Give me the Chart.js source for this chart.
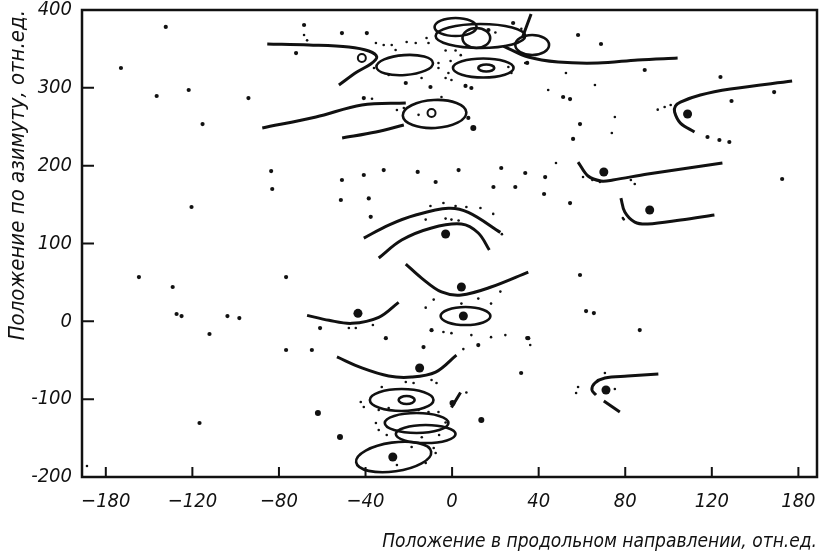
<!DOCTYPE html>
<html>
<head>
<meta charset="utf-8">
<script src="https://cdn.jsdelivr.net/npm/chart.js@4"></script>
<style>
  html, body { margin: 0; background: #fff; }
  #wrap { width: 823px; height: 557px; }
</style>
</head>
<body>
<div id="wrap"><canvas id="chart"></canvas></div>
<script>
// tick positions and the labels printed under them (as in the original figure)
const xTickValues = [-160, -120, -80, -40, 0, 40, 80, 120, 160];
const xTickLabels = ['−180', '−120', '−80', '−40', '0', '40', '80', '120', '180'];
const yTickValues = [-200, -100, 0, 100, 200, 300, 400];

// trajectory curves [x, y]
const curveA = [[-85.4, 356.3], [-66.1, 355], [-47.7, 352.5], [-38.5, 347.3], [-34.8, 339.6], [-37.6, 330.6], [-44.0, 320.3], [-52.3, 303.6]];
const curveB = [[23.7, 353.7], [35.2, 339.6], [49.0, 333.2], [67.4, 331.9], [85.8, 335.8], [104.2, 338.3]];
const slash = [[36.5, 394.9], [32.4, 364]];
const curveC1 = [[-87.7, 248.4], [-62.9, 262.5], [-41.7, 277.9], [-21.4, 280.5]];
const curveC2 = [[-50.8, 235.5], [-35.2, 243.2], [-22.3, 252.2]];
const curveD = [[112.0, 243.2], [105.5, 254.7], [102.8, 268.9], [103.2, 276.6], [105.5, 281.7], [114.7, 290.7], [128.6, 298.4], [157.1, 308.8]];
const curveE = [[58.2, 204.7], [62.8, 186.7], [68.8, 180.3], [74.3, 181.6], [90.4, 189.3], [124.9, 203.4]];
const curveF = [[78.0, 158.4], [79.8, 140.4], [84.4, 127.5], [90.4, 125.0], [105.6, 130.1], [121.2, 136.6]];
const curveJ = [[95.3, -67.7], [81.1, -70.3], [70.6, -72.8], [66.0, -79.2], [64.6, -88.2], [66.5, -94.6]];
const curveJ2 = [[70.1, -102.4], [77.5, -116.5]];
const curveK = [[-40.8, 107.0], [-29.3, 123.7], [-16.8, 136.6], [-1.7, 145.2], [7.5, 140.0], [22.3, 114.3]];
const curveL = [[-33.9, 81.4], [-23.3, 104.5], [-9.5, 120.0], [4.3, 125.0], [12.1, 113.5], [17.2, 91.7]];
const curveG = [[-21.4, 73.6], [-14.1, 55.6], [-4.9, 37.7], [4.3, 33.8], [18.0, 44.1], [35.2, 63.3]];
const curveH = [[-67.0, 7.7], [-56.9, 1.3], [-46.3, -2.6], [-33.9, 5.1], [-24.7, 24.4]];
const curveI = [[-53.2, -45.8], [-41.7, -59.9], [-29.3, -70.3], [-18.7, -71.6], [-7.6, -65.2], [2.0, -43.3]];
const segM = [[3.9, -91.4], [-0.3, -110.6]];

// ellipses [cx, cy, rx, ry, tilt in degrees]
const ellipses = [
  [-21.9, 329.3, 13.1, 12.8, -4],
  [14.4, 325.5, 14.0, 12.2, 0],
  [15.8, 325.5, 3.7, 4.5, 0],
  [1.6, 378.2, 9.7, 11.6, 0],
  [13.1, 366.6, 20.7, 15.4, 0],
  [11.2, 364, 6.4, 12.8, 0],
  [37, 355, 7.8, 12.8, 0],
  [-8.1, 266.4, 14.7, 18, -3],
  [6.2, 6.8, 11.5, 11.6, 0],
  [-23.3, -101.1, 14.7, 14.1, 0],
  [-21.0, -101.1, 3.7, 5.1, 0],
  [-16.4, -130.6, 14.7, 12.8, 0],
  [-12.2, -144.8, 13.8, 11.6, 0],
  [-27.0, -174.3, 17.5, 18.6, -8]
];

// points
const rings = [[-41.7, 338.3], [-9.5, 267.6]];
const largeDots = [[108.8, 266.4], [70.1, 191.9], [91.3, 143.0], [71.1, -88.2], [-3.0, 112.2], [4.3, 44.1], [5.2, 6.8], [-43.5, 10.3], [-15.0, -60.0], [-27.4, -174.3]];
const mediumDots = [[9.8, 248.4], [0.2, -105], [13.5, -126.8], [-62.0, -117.8], [-51.8, -148.6]];
const smallDots = [
  [-132.3, 378.2], [-153.0, 325.5], [-136.5, 289.5], [-121.7, 297.2], [-94.1, 286.9], [-115.3, 253.5], [-83.6, 193.1], [-83.1, 170.0],
  [-120.4, 146.9], [-144.7, 56.9], [-129.1, 44.1], [-127.3, 9.4], [-125.0, 6.8], [-103.8, 6.8], [-98.3, 4.2], [-112.1, -16.3],
  [-76.7, 56.9], [-61.0, -8.6], [-76.7, -36.8], [-64.8, -36.8], [-116.7, -130.6],
  [58.2, 367.9], [68.8, 356.3], [89.0, 322.9], [124.0, 313.9], [129.1, 283.1], [148.8, 294.6], [152.5, 182.9], [118.0, 236.8],
  [123.5, 233.0], [128.1, 230.4], [59.1, 253.5], [55.9, 234.3], [43.0, 185.4], [42.5, 163.6], [54.5, 152.0], [51.3, 288.2],
  [54.5, 285.6], [33.8, 190.6], [22.7, 197.0], [29.2, 172.6], [19.1, 172.6], [3.0, 194.4], [59.1, 59.5], [61.9, 13.2], [65.5, 10.6],
  [86.7, -11.2], [34.7, -21.5], [31.9, -66.4],
  [-31.6, 194.4], [-15.9, 191.9], [-50.9, 181.6], [-40.8, 188.0], [-7.6, 179.0], [-38.5, 157.9], [-51.4, 155.9], [-37.6, 134.3],
  [-68.4, 380.7], [-50.9, 370.4], [-39.4, 370.4], [-72.1, 344.7], [-21.4, 306.2], [-10.0, 301.1], [6.2, 302.4], [8.9, 299.8],
  [-40.8, 286.9], [7.5, 261.4], [16.8, 374.3], [28.2, 383.3], [34.7, 332.0],
  [-9.5, -11.3], [12.1, -30.5], [35.2, -21.6], [-30.6, -21.6], [-13.2, -33.1]
];
const tinyDots = [
  [-68.4, 367.9], [-67, 361], [-35.2, 357.6], [-31.6, 355.0], [-27.9, 355.0], [-26.1, 348.6], [-21.0, 358.9], [-16.8, 357.6],
  [-11.8, 364], [-10.9, 357.6], [-36.1, 325.5], [-29.3, 316.5], [-14.1, 312.6], [-6.3, 332.0], [-6.3, 325.5], [-3.0, 312.6],
  [-0.3, 310.0], [-0.7, 334.5], [-1.7, 319.1], [-3, 348], [1.6, 348], [26.0, 326.8], [27.4, 319.1], [33.8, 332.0], [-22.3, 274.1],
  [-25.5, 271.5], [-4.9, 288.2], [-15.5, 265.3], [20, 371], [32, 376], [4, 342], [-37, 286],
  [52.6, 319.1], [44.4, 297.2], [66.0, 303.6], [75.2, 262.5], [73.8, 241.9], [48.0, 203.4], [58.2, -84.4], [57.3, -92.1],
  [75.2, -87.0], [70.6, -66.4], [36.1, -30.5],
  [-10.0, 148.2], [-4.0, 152.0], [1.6, 148.2], [6.6, 146.9], [13.1, 145.6], [-3.0, 132.0], [-0.3, 130.7], [3.0, 129.5],
  [-12.2, 130.7], [19, 138], [23, 112],
  [-12.2, 17.6], [-8.5, 27.9], [4.3, 22.8], [12.1, 29.2], [18.0, 22.8], [22.3, 38.2],
  [-47.7, -8.6], [-44.5, -8.6], [-36.6, -4.8],
  [-4.0, -13.8], [-0.3, -15.2], [8.9, -17.7], [18.0, -20.3], [24.6, -17.7], [5.2, -35.7],
  [-21.4, -78.0], [-17.8, -79.3], [-9.5, -75.4], [-7.2, -79.3], [-32.5, -84.4],
  [-42.2, -103.7], [-40.8, -110.1], [-33.9, -114.0], [-29.3, -111.4], [-15.5, -114.0], [-10.9, -116.5], [-6.3, -116.5],
  [-35.2, -130.6], [-33.9, -139.6], [-30.2, -146.1], [-18.7, -161.5], [-8.5, -162.8], [-7.6, -169.2], [-12.2, -182.0],
  [-25.5, -184.6], [-3, -130], [-6, -146], [-14, -149], [6.6, -91.4],
  [98.2, 275.4], [101, 278], [95, 272], [78.9, 132.8], [79.3, 131],
  [60.5, 185.4], [64.8, 181.6], [68.3, 179.0], [82.6, 181.6], [84.4, 176.4], [-168.7, -185.9]
];

const curves = [curveA, curveB, slash, curveC1, curveC2, curveD, curveE, curveF, curveJ, curveJ2, curveK, curveL, curveG, curveH, curveI, segM];

const INK = '#111';
const FONT = "'Liberation Sans Narrow', 'DejaVu Sans Condensed', 'DejaVu Sans', sans-serif";

function pts(arr) {
    return arr.map(p => ({ x: p[0], y: p[1] }));
}

function dotSet(arr, r) {
    return {
        type: 'scatter',
        data: pts(arr),
        pointRadius: r,
        pointBackgroundColor: INK,
        pointBorderWidth: 0,
        order: 0
    };
}

const datasets = [
    dotSet(largeDots, 4.5),
    dotSet(mediumDots, 3),
    dotSet(smallDots, 2.1),
    dotSet(tinyDots, 1.3),
    {
        type: 'scatter',
        data: pts(rings),
        pointRadius: 4,
        pointBackgroundColor: '#fff',
        pointBorderColor: INK,
        pointBorderWidth: 2,
        order: 0
    }
];
curves.forEach(c => {
    datasets.push({
        type: 'line',
        data: pts(c),
        borderColor: INK,
        borderWidth: 3,
        pointRadius: 0,
        tension: 0.35,
        fill: false,
        order: 1
    });
});

// ellipses drawn under the points, through the scales
const ellipsePlugin = {
    id: 'ellipses',
    beforeDatasetsDraw(chart) {
        const { ctx, scales: { x, y } } = chart;
        ctx.save();
        ctx.strokeStyle = INK;
        ctx.lineWidth = 2.6;
        ellipses.forEach(e => {
            const cx = x.getPixelForValue(e[0]);
            const cy = y.getPixelForValue(e[1]);
            const rx = Math.abs(x.getPixelForValue(e[0] + e[2]) - cx);
            const ry = Math.abs(y.getPixelForValue(e[1] + e[3]) - cy);
            ctx.beginPath();
            ctx.ellipse(cx, cy, rx, ry, e[4] * Math.PI / 180, 0, 2 * Math.PI);
            ctx.stroke();
        });
        ctx.restore();
    }
};

// frame and inward tick marks
const framePlugin = {
    id: 'frame',
    afterDraw(chart) {
        const { ctx, chartArea: a, scales: { x, y } } = chart;
        ctx.save();
        ctx.strokeStyle = INK;
        ctx.lineWidth = 2.5;
        ctx.strokeRect(a.left, a.top, a.right - a.left, a.bottom - a.top);
        ctx.lineWidth = 2;
        ctx.beginPath();
        xTickValues.forEach(v => {
            const px = x.getPixelForValue(v);
            ctx.moveTo(px, a.bottom);
            ctx.lineTo(px, a.bottom - 10);
        });
        yTickValues.forEach(v => {
            const py = y.getPixelForValue(v);
            if (py < a.top + 2) return;
            ctx.moveTo(a.left, py);
            ctx.lineTo(a.left + 12, py);
        });
        ctx.stroke();
        ctx.restore();
    }
};

new Chart(document.getElementById('chart'), {
    type: 'scatter',
    data: { datasets: datasets },
    options: {
        responsive: true,
        maintainAspectRatio: false,
        animation: false,
        layout: { padding: { top: 10, right: 3, left: 0, bottom: 0 } },
        plugins: { legend: { display: false }, tooltip: { enabled: false } },
        scales: {
            x: {
                type: 'linear',
                min: -171,
                max: 168.6,
                afterFit: s => { s.height = 80; s.paddingLeft = 0; s.paddingRight = 0; },
                afterBuildTicks: s => { s.ticks = xTickValues.map(v => ({ value: v })); },
                grid: { display: false, drawTicks: false },
                border: { display: false },
                ticks: {
                    color: INK,
                    padding: 13,
                    autoSkip: false,
                    maxRotation: 0,
                    font: { family: FONT, size: 20, style: 'italic' },
                    callback: v => {
                        const i = xTickValues.indexOf(v);
                        return i >= 0 ? xTickLabels[i] : '';
                    }
                },
                title: {
                    display: true,
                    text: 'Положение в продольном направлении, отн.ед.',
                    align: 'end',
                    color: INK,
                    padding: { top: 0, bottom: 4 },
                    font: { family: FONT, size: 19, style: 'italic' }
                }
            },
            y: {
                type: 'linear',
                min: -200,
                max: 400,
                afterFit: s => { s.width = 82; s.paddingTop = 0; s.paddingBottom = 0; },
                afterBuildTicks: s => { s.ticks = yTickValues.map(v => ({ value: v })); },
                grid: { display: false, drawTicks: false },
                border: { display: false },
                ticks: {
                    color: INK,
                    padding: 10,
                    font: { family: FONT, size: 20, style: 'italic' }
                },
                title: {
                    display: true,
                    text: 'Положение по азимуту, отн.ед.',
                    align: 'end',
                    color: INK,
                    padding: { top: 5, bottom: 0 },
                    font: { family: FONT, size: 22, style: 'italic' }
                }
            }
        }
    },
    plugins: [ellipsePlugin, framePlugin]
});
</script>
</body>
</html>
